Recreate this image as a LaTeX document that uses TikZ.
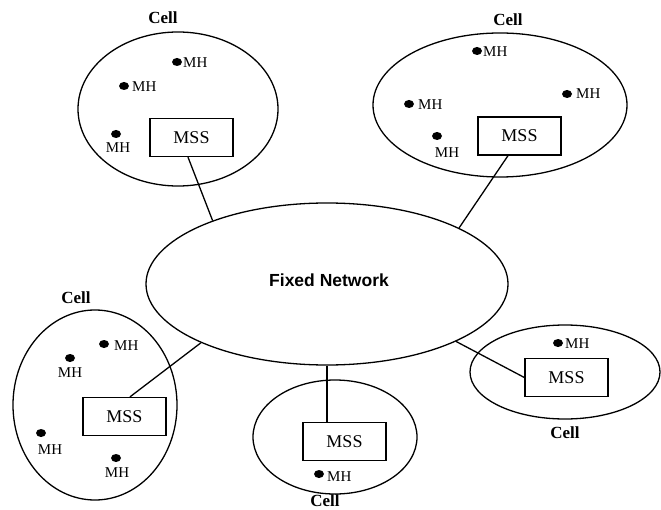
\documentclass[tikz,border=0pt]{standalone}
\usepackage{fontspec}
\setmainfont{Liberation Serif}
\newfontfamily\arialf{Liberation Sans}
\usetikzlibrary{shapes.geometric}
\begin{document}
\begin{tikzpicture}[x=1bp,y=-1bp,
  cellshape/.style={draw, ellipse, line width=1.3bp, inner sep=0pt},
  mssbox/.style={draw, rectangle, line width=1.3bp, minimum width=83bp, minimum height=38bp, inner sep=0pt, font=\fontsize{18bp}{20bp}\selectfont},
  mhdot/.style={fill, ellipse, minimum width=10bp, minimum height=8bp, inner sep=0pt},
  mhlabel/.style={inner sep=0pt, font=\fontsize{15bp}{17bp}\selectfont},
  celllabel/.style={inner sep=0pt, font=\bfseries\fontsize{17bp}{19bp}\selectfont},
  nettext/.style={inner sep=0pt, font=\arialf\bfseries\fontsize{17.5bp}{20bp}\selectfont},
  link/.style={line width=1.3bp}]
\useasboundingbox (0,0) rectangle (661,510);

% fixed network
\node[cellshape, minimum width=362bp, minimum height=162bp] (net) at (327,284) {};
\node[nettext] (nt) at (329,280) {Fixed Network};

% cells
\node[cellshape, minimum width=200bp, minimum height=154bp] (c1) at (178,109) {};
\node[cellshape, minimum width=254bp, minimum height=144bp] (c2) at (500,105) {};
\node[cellshape, minimum width=164bp, minimum height=190bp] (c3) at (95,405) {};
\node[cellshape, minimum width=164bp, minimum height=114bp] (c4) at (335,437) {};
\node[cellshape, minimum width=190bp, minimum height=94bp] (c5) at (565,372) {};

% cell labels
\node[celllabel] (l1) at (163,18) {Cell};
\node[celllabel] (l2) at (508,20) {Cell};
\node[celllabel] (l3) at (76,298) {Cell};
\node[celllabel] (l4) at (325,501) {Cell};
\node[celllabel] (l5) at (565,433) {Cell};

% MSS boxes
\node[mssbox] (m1) at (191.5,137.5) {MSS};
\node[mssbox] (m2) at (519.5,136) {MSS};
\node[mssbox] (m3) at (124.5,416.5) {MSS};
\node[mssbox] (m4) at (344.5,441.5) {MSS};
\node[mssbox] (m5) at (566.5,377.5) {MSS};

% mobile hosts, top-left
\node[mhdot] (d11) at (177,62) {};
\node[mhlabel, anchor=west] (h11) at (183,63) {MH};
\node[mhdot] (d12) at (124,86) {};
\node[mhlabel, anchor=west] (h12) at (132,87) {MH};
\node[mhdot] (d13) at (116,134) {};
\node[mhlabel] (h13) at (118,148) {MH};

% top-right
\node[mhdot] (d21) at (477,51) {};
\node[mhlabel, anchor=west] (h21) at (483,52) {MH};
\node[mhdot] (d22) at (409,104) {};
\node[mhlabel, anchor=west] (h22) at (418,105) {MH};
\node[mhdot] (d23) at (567,94) {};
\node[mhlabel, anchor=west] (h23) at (576,94) {MH};
\node[mhdot] (d24) at (437,136) {};
\node[mhlabel] (h24) at (447,153) {MH};

% bottom-left
\node[mhdot] (d31) at (104,344) {};
\node[mhlabel, anchor=west] (h31) at (114,346) {MH};
\node[mhdot] (d32) at (70,358) {};
\node[mhlabel] (h32) at (70,373) {MH};
\node[mhdot] (d33) at (41,433) {};
\node[mhlabel] (h33) at (50,450) {MH};
\node[mhdot] (d34) at (116,458) {};
\node[mhlabel] (h34) at (117,473) {MH};

% bottom-middle
\node[mhdot] (d41) at (319,474) {};
\node[mhlabel, anchor=west] (h41) at (327,477) {MH};

% bottom-right
\node[mhdot] (d51) at (558,343) {};
\node[mhlabel, anchor=west] (h51) at (565,344) {MH};

% links
\draw[link] ([xshift=-3.5bp]m1.south) -- (net.151);
\draw[link] ([xshift=-11.5bp]m2.south) -- (net.23.6);
\draw[link] ([xshift=5.5bp]m3.north) -- (net.-155);
\draw[link] (net.south) -- (net.south |- m4.north);
\draw[link] (m5.west) -- (net.-24);
\end{tikzpicture}
\end{document}
